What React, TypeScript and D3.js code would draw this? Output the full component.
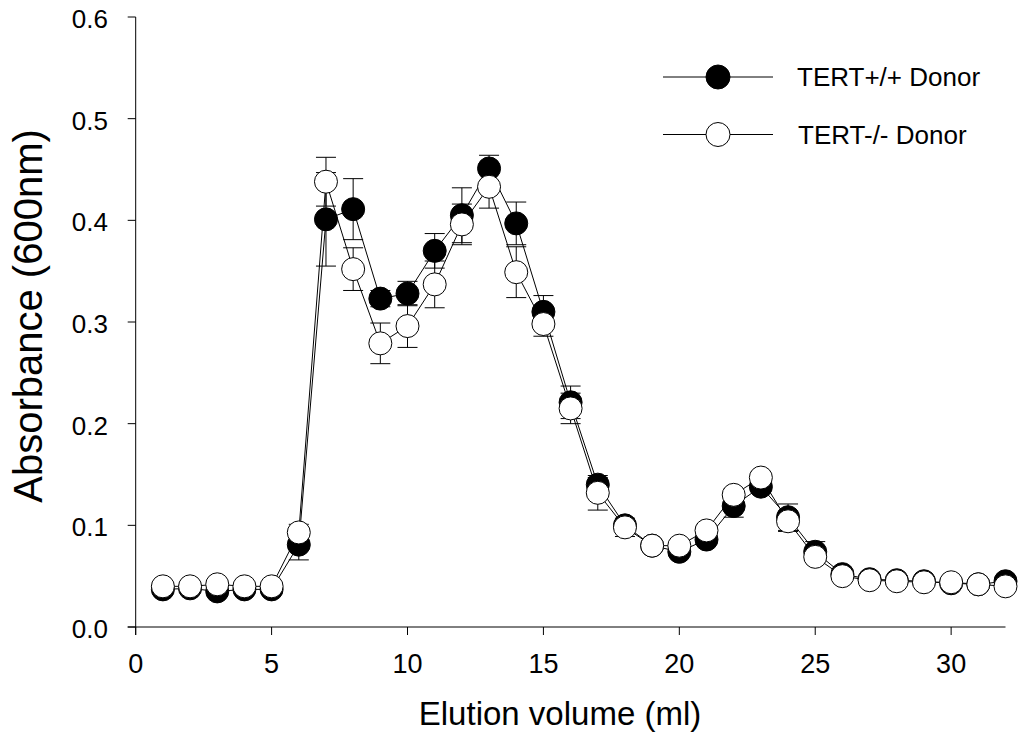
import React from "react";
import * as d3 from "d3";

const volumes = d3.range(1, 33);
const wtValues = [0.037,0.038,0.035,0.037,0.037,0.081,0.401,0.411,0.323,0.328,0.370,0.405,0.451,0.397,0.310,0.221,0.140,0.100,0.080,0.074,0.086,0.119,0.138,0.108,0.074,0.052,0.047,0.046,0.045,0.043,0.042,0.045];
const wtErrors = [0.003,0.003,0.003,0.003,0.003,0.015,0.046,0.030,0.008,0.012,0.017,0.027,0.013,0.021,0.016,0.016,0.007,0.005,0.004,0.004,0.005,0.011,0.006,0.013,0.010,0.003,0.003,0.003,0.003,0.003,0.003,0.003];
const koValues = [0.040,0.040,0.042,0.040,0.040,0.093,0.438,0.352,0.279,0.296,0.337,0.396,0.433,0.349,0.298,0.215,0.132,0.098,0.080,0.080,0.095,0.130,0.147,0.104,0.069,0.050,0.046,0.045,0.044,0.044,0.042,0.040];
const koErrors = [0.003,0.003,0.003,0.003,0.003,0.008,0.024,0.021,0.020,0.021,0.023,0.020,0.021,0.025,0.012,0.015,0.017,0.009,0.004,0.004,0.006,0.006,0.006,0.010,0.005,0.003,0.003,0.003,0.003,0.003,0.003,0.003];
const xTicks = [0, 5, 10, 15, 20, 25, 30];
const yTicks = [0, 0.1, 0.2, 0.3, 0.4, 0.5, 0.6];
const seriesNames = ["TERT+/+ Donor", "TERT-/- Donor"];

const W = 1021, H = 736;
const FONT = "'Liberation Sans', Arial, sans-serif";

export default function App() {
  const x = d3.scaleLinear().domain([0, 32]).range([135.7, 1005.5]);
  const y = d3.scaleLinear().domain([0, 0.6]).range([627, 17]);
  const line = d3.line<number>().x((_, i) => x(volumes[i])).y((d) => y(d));
  const series = [
    { name: seriesNames[0], values: wtValues, errors: wtErrors, fill: "#000" },
    { name: seriesNames[1], values: koValues, errors: koErrors, fill: "#fff" },
  ];
  const r = 11.5;
  const cap = 10;
  return (
    <svg width={W} height={H} style={{ position: "absolute", left: 0, top: 0 }} fontFamily={FONT}>
      <rect width={W} height={H} fill="#fff" />
      <line x1={x(0)} x2={x(0)} y1={y(0.6)} y2={y(0) + 8} stroke="#000" strokeWidth={1} />
      <line x1={x(0) - 8} x2={x(32)} y1={y(0)} y2={y(0)} stroke="#000" strokeWidth={1} />
      {yTicks.map((t) => (
        <g key={"y" + t}>
          <line x1={x(0) - 8} x2={x(0)} y1={y(t)} y2={y(t)} stroke="#000" />
          <text x={108} y={y(t) + 2} dy="0.35em" textAnchor="end" fontSize={26}>{t.toFixed(1)}</text>
        </g>
      ))}
      {xTicks.map((t) => (
        <g key={"x" + t}>
          <line x1={x(t)} x2={x(t)} y1={y(0)} y2={y(0) + 8} stroke="#000" />
          <text x={x(t)} y={664} dy="0.35em" textAnchor="middle" fontSize={27}>{t}</text>
        </g>
      ))}
      <text x={560} y={725} textAnchor="middle" fontSize={33}>Elution volume (ml)</text>
      <text transform={`translate(42,${316}) rotate(-90)`} textAnchor="middle" fontSize={40}>Absorbance (600nm)</text>
      {series.map((s) => (
        <g key={s.name}>
          <path d={line(s.values) || ""} fill="none" stroke="#000" strokeWidth={1} />
          {s.values.map((v, i) => (
            <g key={i} stroke="#000" strokeWidth={1}>
              <line x1={x(volumes[i])} x2={x(volumes[i])} y1={y(v - s.errors[i])} y2={y(v + s.errors[i])} />
              <line x1={x(volumes[i]) - cap} x2={x(volumes[i]) + cap} y1={y(v + s.errors[i])} y2={y(v + s.errors[i])} />
              <line x1={x(volumes[i]) - cap} x2={x(volumes[i]) + cap} y1={y(v - s.errors[i])} y2={y(v - s.errors[i])} />
            </g>
          ))}
          {s.values.map((v, i) => (
            <circle key={"c" + i} cx={x(volumes[i])} cy={y(v)} r={r} fill={s.fill} stroke="#000" strokeWidth={1} />
          ))}
        </g>
      ))}
      {series.map((s, i) => {
        const ly = 77 + i * 57.5;
        return (
          <g key={"lg" + i}>
            <line x1={663} x2={773} y1={ly} y2={ly} stroke="#000" strokeWidth={1} />
            <circle cx={718} cy={ly} r={12} fill={s.fill} stroke="#000" strokeWidth={1} />
            <text x={797 + i} y={ly} dy="0.35em" fontSize={26}>{s.name}</text>
          </g>
        );
      })}
    </svg>
  );
}
